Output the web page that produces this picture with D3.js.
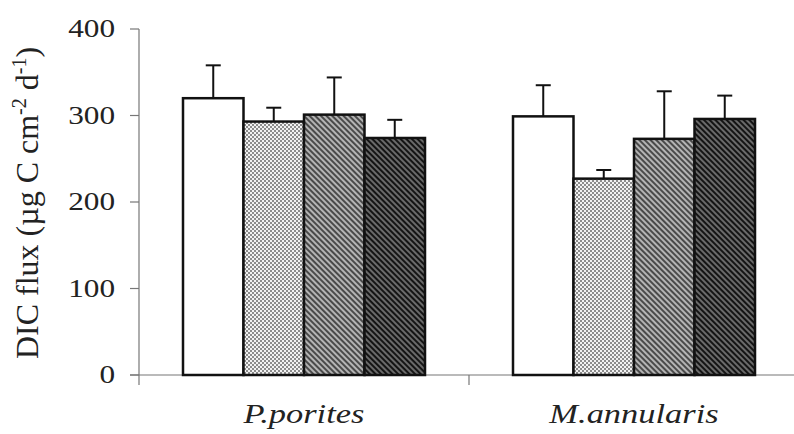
<!DOCTYPE html>
<html>
<head>
<meta charset="utf-8">
<script src="https://cdn.jsdelivr.net/npm/d3@7"></script>
<style>
  html, body { margin: 0; padding: 0; background: #fff; }
  svg { display: block; }
</style>
</head>
<body>
<svg id="chart" width="794" height="434"></svg>
<script>
// data
var species = ["P.porites", "M.annularis"];
var treatments = ["t1", "t2", "t3", "t4"];
var poritesMean = [320, 293, 301, 274];
var poritesErr = [38, 16, 43, 21];
var annularisMean = [299, 227, 273, 296];
var annularisErr = [36, 10, 55, 27];
var yTicks = [0, 100, 200, 300, 400];

var rows = [];
species.forEach(function (s, i) {
    var means = i === 0 ? poritesMean : annularisMean;
    var errs = i === 0 ? poritesErr : annularisErr;
    treatments.forEach(function (t, j) {
        rows.push({ species: s, treatment: t, mean: means[j], err: errs[j] });
    });
});

var svg = d3.select("#chart");
var font = "'Liberation Serif', 'Times New Roman', serif";
var stretch = 1.25;

var x0 = d3.scaleBand().domain(species).range([139, 799]).paddingInner(0).paddingOuter(0);
var x1 = d3.scaleBand().domain(treatments).range([0, 242]);
var groupOffset = (x0.bandwidth() - 242) / 2;
var y = d3.scaleLinear().domain([0, 400]).range([375, 29]);

// fill patterns
var defs = svg.append("defs");
var dots = defs.append("pattern").attr("id", "dots")
    .attr("patternUnits", "userSpaceOnUse").attr("width", 4).attr("height", 4);
dots.append("rect").attr("width", 4).attr("height", 4).attr("fill", "#f2f2f2");
dots.append("rect").attr("width", 2).attr("height", 2).attr("fill", "#8c8c8c");
dots.append("rect").attr("x", 2).attr("y", 2).attr("width", 2).attr("height", 2).attr("fill", "#8c8c8c");

var hatch = function (id, bg, fg) {
    var p = defs.append("pattern").attr("id", id)
        .attr("patternUnits", "userSpaceOnUse").attr("width", 4).attr("height", 4)
        .attr("patternTransform", "rotate(-45)");
    p.append("rect").attr("width", 4).attr("height", 4).attr("fill", bg);
    p.append("rect").attr("width", 2).attr("height", 4).attr("fill", fg);
};
hatch("hatchGray", "#b4b4b4", "#4a4a4a");
hatch("hatchDark", "#6a6a6a", "#141414");

var fills = { t1: "#ffffff", t2: "url(#dots)", t3: "url(#hatchGray)", t4: "url(#hatchDark)" };

// axes
var axisColor = "#777";
svg.append("line").attr("x1", 130).attr("x2", 799).attr("y1", y(0)).attr("y2", y(0))
    .attr("stroke", axisColor).attr("stroke-width", 1.2);
svg.append("line").attr("x1", 139).attr("x2", 139).attr("y1", y(400)).attr("y2", y(0) + 10)
    .attr("stroke", axisColor).attr("stroke-width", 1.2);
svg.selectAll(".ytick").data(yTicks).enter().append("line")
    .attr("x1", 130).attr("x2", 139).attr("y1", d => y(d)).attr("y2", d => y(d))
    .attr("stroke", axisColor).attr("stroke-width", 1.2);
// middle tick between groups
svg.append("line").attr("x1", x0("M.annularis")).attr("x2", x0("M.annularis"))
    .attr("y1", y(0)).attr("y2", y(0) + 10)
    .attr("stroke", axisColor).attr("stroke-width", 1.2);

svg.selectAll(".ylab").data(yTicks).enter().append("text")
    .attr("transform", d => "translate(115," + (y(d) + 8) + ") scale(" + stretch + ",1)")
    .attr("text-anchor", "end")
    .attr("font-family", font).attr("font-size", 25).attr("fill", "#222")
    .text(d => d);

// bars
var bars = svg.append("g");
bars.selectAll("rect").data(rows).enter().append("rect")
    .attr("x", d => x0(d.species) + groupOffset + x1(d.treatment))
    .attr("y", d => y(d.mean))
    .attr("width", x1.bandwidth())
    .attr("height", d => y(0) - y(d.mean))
    .attr("fill", d => fills[d.treatment])
    .attr("stroke", "#111").attr("stroke-width", 2.5);

// error bars (upper only)
var errG = svg.append("g").attr("stroke", "#111").attr("stroke-width", 2);
rows.forEach(function (d) {
    var cx = x0(d.species) + groupOffset + x1(d.treatment) + x1.bandwidth() / 2;
    errG.append("line").attr("x1", cx).attr("x2", cx)
        .attr("y1", y(d.mean)).attr("y2", y(d.mean + d.err));
    errG.append("line").attr("x1", cx - 7.5).attr("x2", cx + 7.5)
        .attr("y1", y(d.mean + d.err)).attr("y2", y(d.mean + d.err));
});

// category labels
svg.selectAll(".xlab").data(species).enter().append("text")
    .attr("transform", d => "translate(" + (x0(d) + x0.bandwidth() / 2) + ",423) scale(1.3,1)")
    .attr("text-anchor", "middle")
    .attr("font-family", font).attr("font-style", "italic").attr("font-size", 26.5).attr("fill", "#222")
    .text(d => d);

// y axis title
var title = svg.append("text")
    .attr("transform", "translate(38,203) rotate(-90)")
    .attr("text-anchor", "middle")
    .attr("font-family", font).attr("font-size", 32).attr("fill", "#222");
title.append("tspan").text("DIC flux (µg C cm");
title.append("tspan").attr("font-size", 20).attr("dy", -12).text("-2");
title.append("tspan").attr("dy", 12).text(" d");
title.append("tspan").attr("font-size", 20).attr("dy", -12).text("-1");
title.append("tspan").attr("dy", 12).text(")");
</script>
</body>
</html>
